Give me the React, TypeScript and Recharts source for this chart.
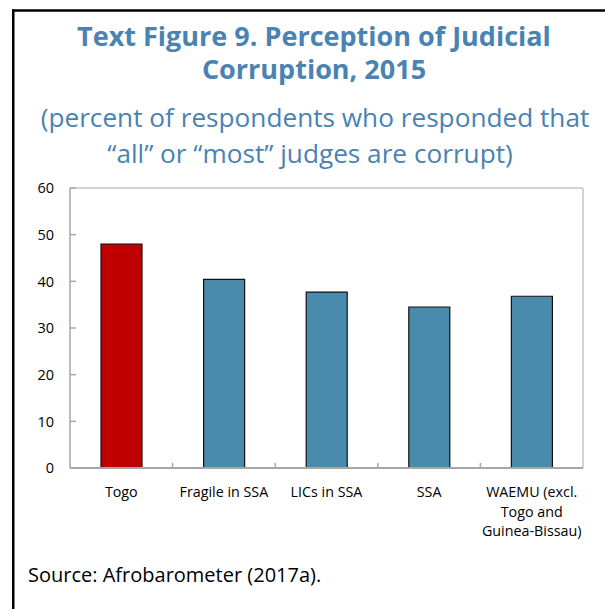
import { BarChart, Bar, XAxis, YAxis, Cell, CartesianGrid } from 'recharts';

const categories = ['Togo', 'Fragile in SSA', 'LICs in SSA', 'SSA', 'WAEMU (excl. Togo and Guinea-Bissau)'];
const labelLines: string[][] = [
  ['Togo'],
  ['Fragile in SSA'],
  ['LICs in SSA'],
  ['SSA'],
  ['WAEMU (excl.', 'Togo and', 'Guinea-Bissau)'],
];
const values = [48.0, 40.4, 37.7, 34.5, 36.8];
const barColors = ['#C00000', '#4A8BAD', '#4A8BAD', '#4A8BAD', '#4A8BAD'];
const yTicks = [0, 10, 20, 30, 40, 50, 60];

const titleLines = ['Text Figure 9. Perception of Judicial', 'Corruption, 2015'];
const subtitleLines = ['(percent of respondents who responded that', '\u201Call\u201D or \u201Cmost\u201D judges are corrupt)'];
const source = 'Source: Afrobarometer (2017a).';

const data = categories.map((name, i) => ({ name, value: values[i] }));

const FONT = '"Open Sans", "Noto Sans", sans-serif';
const BLUE = '#4A82B2';
const AXIS = '#A6A6A6';

function CategoryTick(props: any) {
  const { x, y, payload, index } = props;
  const lines = labelLines[index] ?? [String(payload.value)];
  const half = payload.offset ?? 0;
  return (
    <g>
      {index < categories.length - 1 && half > 0 && (
        <line x1={x + half} x2={x + half} y1={y} y2={y - 5} stroke={AXIS} strokeWidth={1.5} />
      )}
      <text x={x} y={y} textAnchor="middle" fontSize={14.3} fill="#000" fontFamily={FONT}>
        {lines.map((l, i) => (
          <tspan key={i} x={x} dy={i === 0 ? 29 : 19.5}>
            {l}
          </tspan>
        ))}
      </text>
    </g>
  );
}

function ValueTick(props: any) {
  const { x, y, payload } = props;
  return (
    <g>
      <line x1={x} x2={x + 6} y1={y} y2={y} stroke={AXIS} strokeWidth={1.5} />
      <text x={x - 16} y={y} dy="0.36em" textAnchor="end" fontSize={14.5} fill="#000" fontFamily={FONT}>
        {payload.value}
      </text>
    </g>
  );
}

export default function App() {
  return (
    <div style={{ position: 'absolute', left: 0, top: 0, width: 605, height: 609, background: '#fff', overflow: 'hidden' }}>
      <div style={{ position: 'absolute', left: 0, top: 0 }}>
        <BarChart width={605} height={560} data={data} margin={{ top: 188, right: 22, bottom: 32, left: 20 }}>
          <CartesianGrid
            stroke="#C4C4C4"
            strokeWidth={1.5}
            horizontalCoordinatesGenerator={({ offset }: any) => [offset.top]}
            verticalCoordinatesGenerator={({ offset }: any) => [offset.left + offset.width]}
          />
          <XAxis
            dataKey="name"
            height={60}
            interval={0}
            tickSize={0}
            tickMargin={0}
            tickLine={false}
            axisLine={{ stroke: AXIS, strokeWidth: 2 }}
            tick={<CategoryTick />}
          />
          <YAxis
            domain={[0, 60]}
            ticks={yTicks}
            width={50}
            tickSize={0}
            tickMargin={0}
            tickLine={false}
            axisLine={{ stroke: AXIS, strokeWidth: 1.5 }}
            tick={<ValueTick />}
          />
          <Bar dataKey="value" barSize={41} stroke="#111" strokeWidth={1.2} isAnimationActive={false}>
            {data.map((d, i) => (
              <Cell key={d.name} fill={barColors[i]} />
            ))}
          </Bar>
        </BarChart>
      </div>
      <svg width={605} height={609} style={{ position: 'absolute', left: 0, top: 0, pointerEvents: 'none' }}>
        <line x1={12} x2={605} y1={10.5} y2={10.5} stroke="#000" strokeWidth={2.5} />
        <line x1={13.25} x2={13.25} y1={9.5} y2={609} stroke="#000" strokeWidth={2.5} />
        {titleLines.map((t, i) => (
          <text key={t} x={314} y={45.5 + i * 33.5} textAnchor="middle" fontSize={27} fontWeight={700} fill={BLUE} fontFamily={FONT}>
            {t}
          </text>
        ))}
        {subtitleLines.map((t, i) => (
          <text key={t} x={i === 0 ? 315 : 310} y={126.7 + i * 36.3} textAnchor="middle" fontSize={26.2} fill={BLUE} fontFamily={FONT}>
            {t}
          </text>
        ))}
        <text x={28} y={581.5} fontSize={20} fill="#000" fontFamily={FONT}>
          {source}
        </text>
      </svg>
    </div>
  );
}
